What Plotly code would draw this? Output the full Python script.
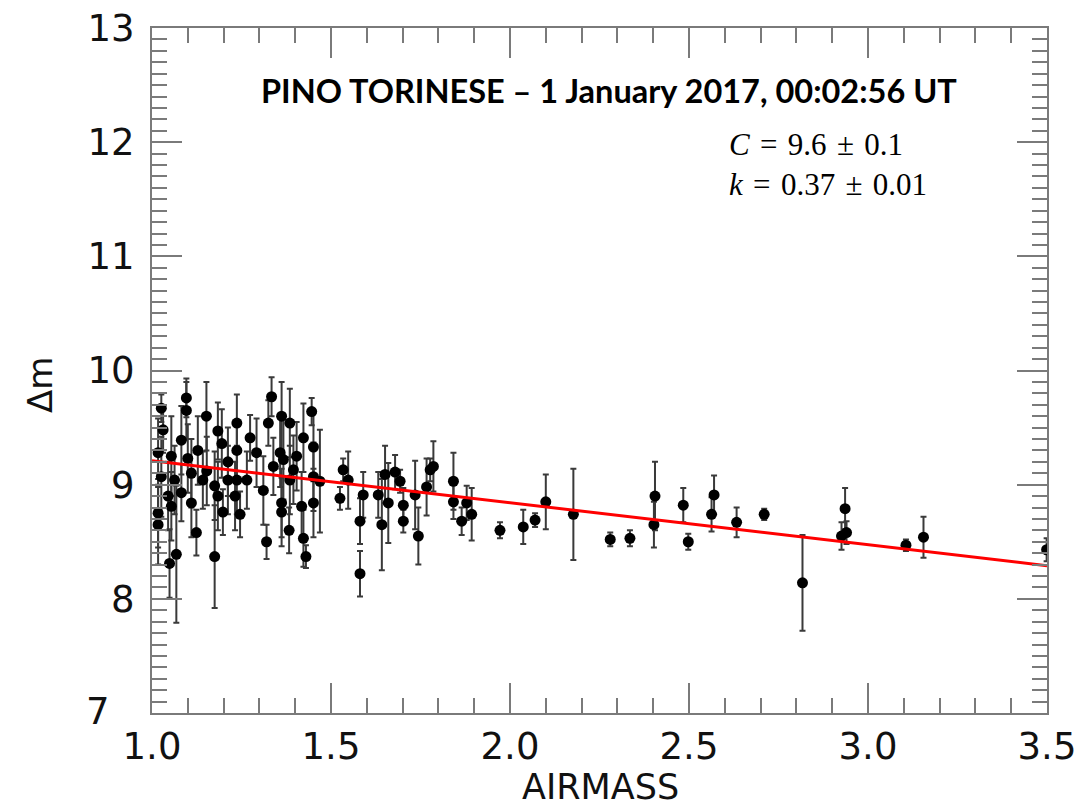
import plotly.graph_objects as go

# ---- data ----
airmass = [
    1.026, 1.096, 1.096, 1.152, 1.184, 1.031, 1.082, 1.128, 1.017, 1.054,
    1.100, 1.026, 1.063, 1.110, 1.142, 1.175, 1.212, 1.045, 1.082, 1.110,
    1.054, 1.184, 1.198, 1.017, 1.017, 1.124, 1.068, 1.049, 1.175, 1.195,
    1.153, 1.212,
    1.334, 1.325, 1.362, 1.385, 1.446, 1.237, 1.274, 1.292, 1.237, 1.358,
    1.367, 1.404, 1.423, 1.451, 1.339, 1.395, 1.237, 1.265, 1.311, 1.385,
    1.451, 1.232, 1.246, 1.362, 1.362, 1.418, 1.451, 1.320, 1.383, 1.423,
    1.430,
    1.469, 1.548, 1.534, 1.525, 1.590, 1.581, 1.581, 1.632, 1.642, 1.651,
    1.660, 1.679, 1.693, 1.702, 1.702, 1.735, 1.744, 1.767, 1.777, 1.786,
    1.842, 1.842, 1.865, 1.879, 1.893, 1.972, 2.037, 2.070, 2.100,
    2.177, 2.280, 2.335, 2.405, 2.402, 2.484, 2.498, 2.570, 2.563, 2.633,
    2.710, 2.817, 2.936, 2.926, 2.940, 3.106, 3.155, 3.499,
]
delta_m = [
    9.67, 9.76, 9.65, 9.60, 9.47, 9.48, 9.39, 9.30, 9.28, 9.25,
    9.23, 9.07, 9.04, 9.10, 9.04, 8.99, 9.04, 8.90, 8.93, 8.84,
    8.81, 8.90, 8.76, 8.75, 8.65, 8.58, 8.39, 8.31, 8.37, 9.36,
    9.12, 9.20,
    9.77, 9.54, 9.60, 9.54, 9.64, 9.54, 9.41, 9.28, 9.30, 9.28,
    9.22, 9.25, 9.41, 9.33, 9.16, 9.13, 9.04, 9.04, 8.95, 9.04,
    9.07, 8.90, 8.74, 8.84, 8.76, 8.81, 8.84, 8.50, 8.60, 8.53,
    8.37,
    9.03, 9.04, 9.13, 8.88, 8.91, 8.68, 8.22, 8.91, 8.65, 9.09,
    8.84, 9.11, 9.03, 8.82, 8.68, 8.91, 8.55, 8.98, 9.13, 9.16,
    9.03, 8.85, 8.68, 8.84, 8.74, 8.60, 8.63, 8.69, 8.85,
    8.74, 8.52, 8.53, 8.90, 8.65, 8.82, 8.50, 8.91, 8.74, 8.67,
    8.74, 8.14, 8.79, 8.55, 8.58, 8.47, 8.54, 8.43,
]
delta_m_err = [
    0.12, 0.17, 0.25, 0.30, 0.25, 0.20, 0.30, 0.30, 0.30, 0.35,
    0.30, 0.35, 0.30, 0.30, 0.25, 0.30, 0.30, 0.30, 0.25, 0.30,
    0.30, 0.30, 0.20, 0.30, 0.35, 0.20, 0.60, 0.30, 0.45, 0.30,
    0.30, 0.30,
    0.17, 0.20, 0.30, 0.30, 0.12, 0.25, 0.20, 0.30, 0.25, 0.30,
    0.35, 0.30, 0.30, 0.30, 0.25, 0.30, 0.30, 0.25, 0.30, 0.30,
    0.30, 0.30, 0.20, 0.30, 0.30, 0.30, 0.30, 0.15, 0.20, 0.25,
    0.10,
    0.45, 0.25, 0.10, 0.10, 0.20, 0.20, 0.20, 0.20, 0.40, 0.25,
    0.35, 0.15, 0.10, 0.15, 0.10, 0.30, 0.25, 0.25, 0.10, 0.22,
    0.25, 0.15, 0.12, 0.15, 0.23, 0.07, 0.15, 0.06, 0.24,
    0.40, 0.06, 0.07, 0.30, 0.20, 0.15, 0.07, 0.17, 0.15, 0.13,
    0.05, 0.42, 0.18, 0.12, 0.10, 0.05, 0.18, 0.10,
]
fit_x = [1.0, 3.5]
fit_y = [9.21, 8.29]

title_text = "PINO TORINESE – 1 January 2017, 00:02:56 UT"
c_text = "<i>C</i>\u2004=\u20049.6\u2004±\u20040.1"
k_text = "<i>k</i>\u2004=\u20040.37\u2004±\u20040.01"
x_title = "AIRMASS"
y_title = "Δm"
x_ticks = [1.0, 1.5, 2.0, 2.5, 3.0, 3.5]
x_tick_labels = ["1.0", "1.5", "2.0", "2.5", "3.0", "3.5"]
y_ticks = [7, 8, 9, 10, 11, 12, 13]
y_tick_labels = ["7", "8", "9", "10", "11", "12", "13"]

fig = go.Figure()
fig.add_trace(go.Scatter(
    x=airmass, y=delta_m, mode="markers",
    marker=dict(color="black", size=11),
    error_y=dict(type="data", array=delta_m_err, visible=True,
                 color="#3a3a3a", thickness=2, width=3),
    showlegend=False,
))
fig.add_trace(go.Scatter(
    x=fit_x, y=fit_y, mode="lines",
    line=dict(color="#ff0000", width=3), showlegend=False,
))

tick_font = dict(family="DejaVu Sans", size=37, color="#111")
axis_common = dict(
    showline=True, linecolor="#7a7a7a", linewidth=2, mirror="allticks",
    ticks="inside", tickcolor="#7a7a7a", tickwidth=2, ticklen=30,
    showgrid=False, zeroline=False, automargin=False, ticklabeloverflow="allow",
    tickfont=tick_font,
)
minor_common = dict(dtick=0.1, ticks="inside", ticklen=15, tickcolor="#7a7a7a",
                    tickwidth=2, showgrid=False)
fig.update_xaxes(range=[1.0, 3.5], tickvals=x_ticks, ticktext=x_tick_labels,
                 minor=minor_common, **axis_common)
# the lowest y label ("7") sits a little further left in the reference, so it is drawn separately
fig.update_yaxes(range=[7, 13], tickvals=y_ticks, ticktext=[""] + y_tick_labels[1:],
                 minor=minor_common, ticklabelstandoff=8, **axis_common)
fig.add_annotation(x=y_ticks[0] * 0 + 0.0, y=y_ticks[0], xref="paper", yref="y",
                   text=y_tick_labels[0], showarrow=False, xanchor="right", yanchor="middle",
                   xshift=-40, yshift=2, font=tick_font)

fig.add_annotation(x=0.5006, y=-0.108, xref="paper", yref="paper", text=x_title,
                   showarrow=False, xanchor="center", yanchor="middle",
                   font=dict(family="DejaVu Sans", size=35, color="#111"))
fig.add_annotation(x=-0.125, y=0.479, xref="paper", yref="paper", text=y_title,
                   showarrow=False, xanchor="center", yanchor="middle", textangle=-90,
                   font=dict(family="DejaVu Sans", size=34, color="#111"))

fig.add_annotation(x=2.277, y=12.45, xref="x", yref="y", text="<b>" + title_text + "</b>",
                   showarrow=False, xanchor="center", yanchor="middle",
                   font=dict(family="Lato", size=32.5, color="black"))
fig.add_annotation(x=2.606, y=11.98, xref="x", yref="y", text=c_text,
                   showarrow=False, xanchor="left", yanchor="middle",
                   font=dict(family="Liberation Serif", size=31, color="black"))
fig.add_annotation(x=2.606, y=11.63, xref="x", yref="y", text=k_text,
                   showarrow=False, xanchor="left", yanchor="middle",
                   font=dict(family="Liberation Serif", size=31, color="black"))

fig.update_layout(
    width=1075, height=801,
    margin=dict(l=144, r=36, t=20, b=96),
    plot_bgcolor="white", paper_bgcolor="white",
)
fig.write_html("out.html")
